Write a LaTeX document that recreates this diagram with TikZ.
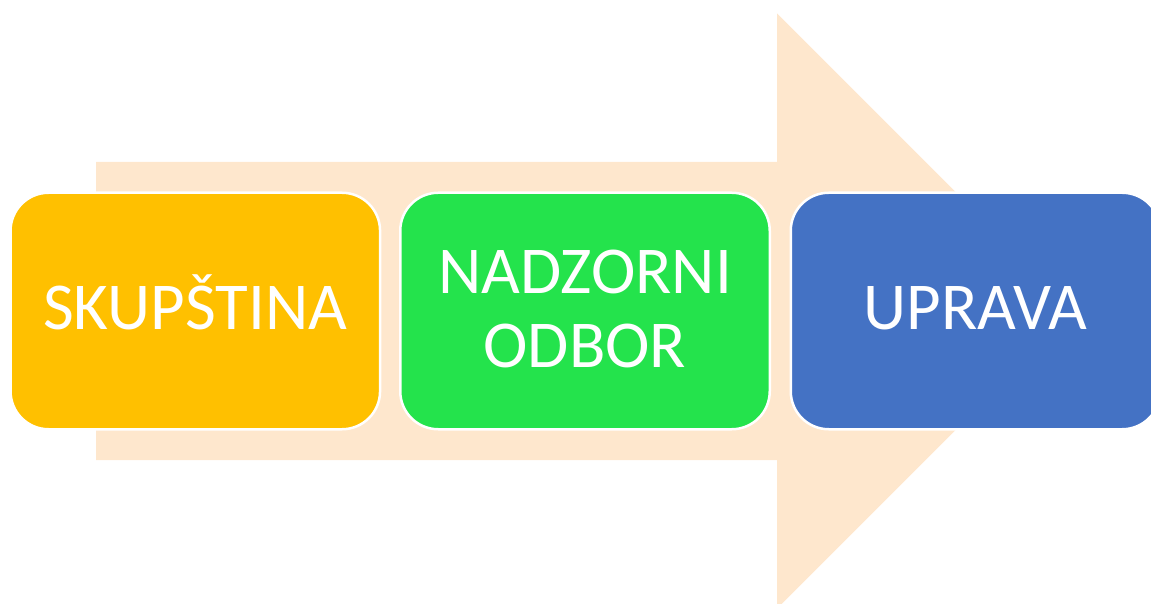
\documentclass[tikz,border=0pt]{standalone}
\usepackage{fontspec}
\setmainfont{Carlito}
\definecolor{peach}{HTML}{FEE7CD}
\definecolor{boxorange}{HTML}{FFC000}
\definecolor{boxgreen}{HTML}{24E34C}
\definecolor{boxblue}{HTML}{4472C4}
\tikzset{
  stagebox/.style={draw=white, line width=2.5pt, rounded corners=38pt,
    minimum width=369.5pt, minimum height=236.5pt, inner sep=0pt},
  stagetext/.style={text=white, font=\fontsize{67}{74}\selectfont, inner sep=0pt, align=center}
}
\begin{document}
\begin{tikzpicture}[x=1pt,y=1pt]
\useasboundingbox (0,0) rectangle (1151,603);
\clip (0,0) rectangle (1151,603);
% big arrow
\fill[peach] (96,143) -- (96,441) -- (777,441) -- (777,589.7) -- (1074.7,292)
  -- (777,-5.7) -- (777,143) -- cycle;
% boxes
\node[stagebox, fill=boxorange] (b1) at (195.3,292) {};
\node[stagebox, fill=boxgreen] (b2) at (585,292) {};
\node[stagebox, fill=boxblue] (b3) at (975.5,292) {};
% texts
\node[stagetext, anchor=base] (t1) at ([yshift=-19pt]b1.center) {SKUPŠTINA};
\node[stagetext, anchor=center] (t2) at ([yshift=2.5pt]b2.center) {NADZORNI\\ODBOR};
\node[stagetext, anchor=base] (t3) at ([yshift=-19pt]b3.center) {UPRAVA};
\end{tikzpicture}
\end{document}
